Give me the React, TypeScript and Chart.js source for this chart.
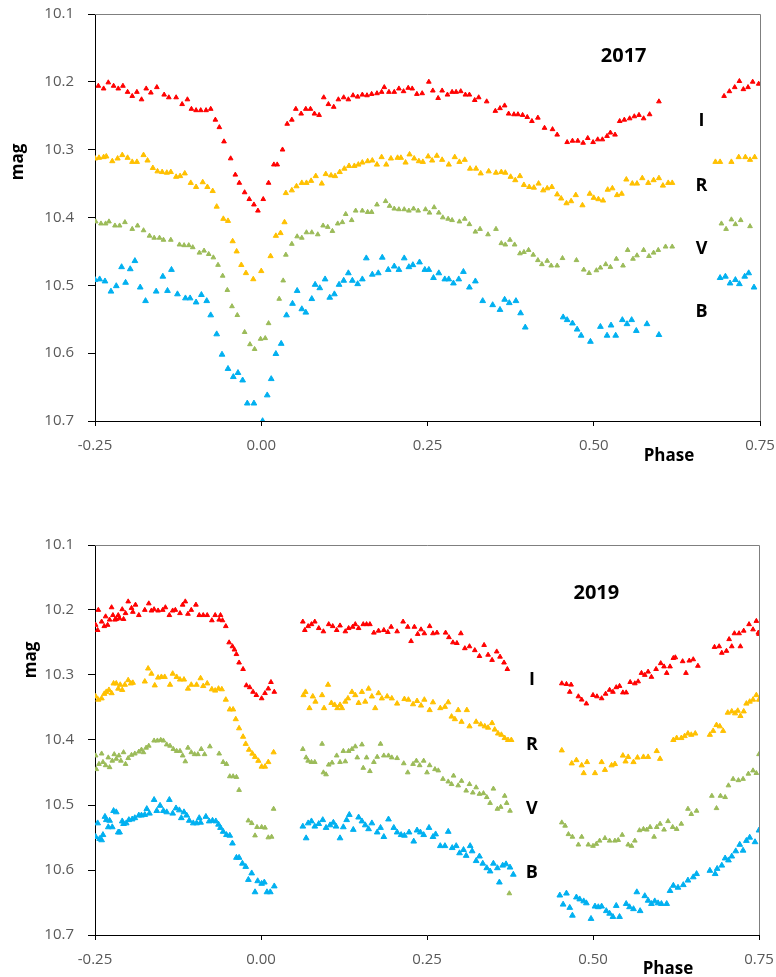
import React, { useEffect, useRef } from "react";
import { Chart, registerables } from "chart.js";

Chart.register(...registerables);

// ---------- 2017 data: [phase, mag] ----------
const I2017: number[][] = [
  [-0.245, 10.206], [-0.237, 10.21], [-0.23, 10.201], [-0.222, 10.206], [-0.215, 10.21], [-0.208, 10.206],
  [-0.201, 10.215], [-0.194, 10.221], [-0.187, 10.215], [-0.18, 10.226], [-0.173, 10.21], [-0.166, 10.216],
  [-0.157, 10.208], [-0.146, 10.219], [-0.139, 10.223], [-0.128, 10.223], [-0.119, 10.233], [-0.111, 10.226],
  [-0.105, 10.24], [-0.098, 10.242], [-0.091, 10.242], [-0.083, 10.242], [-0.076, 10.24], [-0.069, 10.256],
  [-0.063, 10.267], [-0.056, 10.288], [-0.046, 10.313], [-0.039, 10.337], [-0.033, 10.349], [-0.025, 10.363],
  [-0.018, 10.373], [-0.011, 10.381], [-0.005, 10.39], [0.003, 10.373], [0.011, 10.349], [0.019, 10.322],
  [0.024, 10.322], [0.032, 10.3], [0.039, 10.262], [0.046, 10.256], [0.052, 10.24], [0.06, 10.247],
  [0.067, 10.24], [0.074, 10.24], [0.08, 10.247], [0.087, 10.249], [0.094, 10.223], [0.101, 10.233],
  [0.109, 10.237], [0.116, 10.226], [0.124, 10.223], [0.131, 10.226], [0.138, 10.22], [0.145, 10.222],
  [0.152, 10.219], [0.159, 10.22], [0.166, 10.218], [0.174, 10.217], [0.181, 10.215], [0.185, 10.208],
  [0.192, 10.215], [0.2, 10.215], [0.207, 10.21], [0.214, 10.214], [0.221, 10.209], [0.227, 10.21],
  [0.234, 10.218], [0.242, 10.217], [0.252, 10.2], [0.258, 10.213], [0.266, 10.224], [0.272, 10.213],
  [0.28, 10.219], [0.287, 10.215], [0.293, 10.215], [0.3, 10.214], [0.307, 10.219], [0.313, 10.219],
  [0.321, 10.227], [0.327, 10.223], [0.339, 10.229], [0.352, 10.243], [0.359, 10.239], [0.366, 10.235],
  [0.372, 10.247], [0.38, 10.248], [0.386, 10.248], [0.393, 10.249], [0.4, 10.252], [0.407, 10.258],
  [0.416, 10.253], [0.426, 10.268], [0.438, 10.27], [0.445, 10.278], [0.46, 10.289], [0.468, 10.287],
  [0.476, 10.287], [0.484, 10.29], [0.491, 10.283], [0.499, 10.289], [0.506, 10.285], [0.513, 10.285],
  [0.52, 10.28], [0.525, 10.275], [0.532, 10.278], [0.539, 10.258], [0.546, 10.256], [0.554, 10.254],
  [0.561, 10.251], [0.568, 10.249], [0.575, 10.254], [0.584, 10.248], [0.598, 10.229], [0.696, 10.221],
  [0.704, 10.214], [0.712, 10.208], [0.719, 10.199], [0.725, 10.211], [0.732, 10.208], [0.739, 10.2],
  [0.748, 10.203],
];

const R2017: number[][] = [
  [-0.25, 10.313], [-0.244, 10.312], [-0.237, 10.311], [-0.233, 10.31], [-0.224, 10.317], [-0.216, 10.313],
  [-0.209, 10.308], [-0.201, 10.312], [-0.194, 10.318], [-0.187, 10.318], [-0.177, 10.308], [-0.171, 10.316],
  [-0.163, 10.327], [-0.156, 10.332], [-0.149, 10.333], [-0.142, 10.334], [-0.136, 10.333], [-0.128, 10.34],
  [-0.122, 10.339], [-0.115, 10.335], [-0.106, 10.349], [-0.098, 10.355], [-0.088, 10.348], [-0.081, 10.355],
  [-0.073, 10.361], [-0.067, 10.384], [-0.057, 10.402], [-0.05, 10.405], [-0.043, 10.435], [-0.037, 10.45],
  [-0.03, 10.47], [-0.023, 10.482], [-0.012, 10.491], [0.0, 10.479], [0.014, 10.457], [0.022, 10.427],
  [0.029, 10.423], [0.035, 10.407], [0.037, 10.364], [0.046, 10.36], [0.053, 10.354], [0.061, 10.349],
  [0.068, 10.349], [0.075, 10.346], [0.082, 10.339], [0.091, 10.35], [0.097, 10.336], [0.105, 10.338],
  [0.111, 10.339], [0.118, 10.333], [0.125, 10.328], [0.132, 10.324], [0.14, 10.324], [0.146, 10.322],
  [0.152, 10.319], [0.16, 10.317], [0.167, 10.316], [0.174, 10.322], [0.181, 10.311], [0.188, 10.322],
  [0.195, 10.313], [0.205, 10.312], [0.21, 10.312], [0.217, 10.319], [0.223, 10.307], [0.23, 10.313],
  [0.237, 10.317], [0.243, 10.318], [0.251, 10.31], [0.257, 10.316], [0.264, 10.309], [0.272, 10.315],
  [0.282, 10.322], [0.291, 10.311], [0.298, 10.318], [0.306, 10.315], [0.314, 10.328], [0.323, 10.328],
  [0.33, 10.335], [0.342, 10.332], [0.353, 10.334], [0.361, 10.333], [0.367, 10.334], [0.375, 10.34],
  [0.382, 10.345], [0.389, 10.339], [0.395, 10.352], [0.403, 10.355], [0.41, 10.356], [0.417, 10.35],
  [0.424, 10.36], [0.43, 10.357], [0.437, 10.355], [0.445, 10.366], [0.451, 10.372], [0.459, 10.379],
  [0.466, 10.376], [0.473, 10.367], [0.483, 10.382], [0.494, 10.365], [0.5, 10.371], [0.507, 10.373],
  [0.514, 10.375], [0.521, 10.359], [0.528, 10.357], [0.535, 10.367], [0.542, 10.365], [0.549, 10.344],
  [0.558, 10.35], [0.565, 10.35], [0.573, 10.342], [0.582, 10.349], [0.59, 10.345], [0.598, 10.342],
  [0.604, 10.353], [0.612, 10.349], [0.618, 10.349], [0.683, 10.318], [0.69, 10.318], [0.707, 10.318],
  [0.718, 10.311], [0.728, 10.311], [0.735, 10.315], [0.742, 10.311],
];

const V2017: number[][] = [
  [-0.249, 10.406], [-0.241, 10.409], [-0.234, 10.409], [-0.229, 10.406], [-0.22, 10.412], [-0.213, 10.412],
  [-0.205, 10.407], [-0.194, 10.417], [-0.186, 10.412], [-0.177, 10.419], [-0.168, 10.427], [-0.161, 10.43],
  [-0.153, 10.43], [-0.147, 10.433], [-0.136, 10.433], [-0.123, 10.44], [-0.116, 10.441], [-0.109, 10.441],
  [-0.103, 10.444], [-0.093, 10.452], [-0.086, 10.449], [-0.079, 10.454], [-0.072, 10.459], [-0.065, 10.47],
  [-0.058, 10.486], [-0.051, 10.507], [-0.044, 10.531], [-0.036, 10.544], [-0.025, 10.569], [-0.017, 10.587],
  [-0.01, 10.594], [-0.001, 10.579], [0.006, 10.578], [0.011, 10.556], [0.027, 10.52], [0.033, 10.493],
  [0.037, 10.455], [0.046, 10.439], [0.054, 10.428], [0.061, 10.43], [0.068, 10.422], [0.076, 10.422],
  [0.085, 10.425], [0.093, 10.412], [0.1, 10.414], [0.107, 10.42], [0.115, 10.409], [0.122, 10.407],
  [0.127, 10.395], [0.136, 10.404], [0.142, 10.39], [0.152, 10.39], [0.16, 10.392], [0.166, 10.392],
  [0.174, 10.381], [0.187, 10.376], [0.193, 10.383], [0.2, 10.387], [0.207, 10.388], [0.215, 10.388],
  [0.222, 10.39], [0.229, 10.387], [0.236, 10.39], [0.247, 10.388], [0.253, 10.393], [0.26, 10.385],
  [0.267, 10.393], [0.273, 10.4], [0.281, 10.402], [0.287, 10.404], [0.298, 10.406], [0.306, 10.402],
  [0.313, 10.41], [0.322, 10.421], [0.329, 10.417], [0.341, 10.425], [0.353, 10.417], [0.361, 10.438],
  [0.367, 10.44], [0.374, 10.433], [0.381, 10.44], [0.389, 10.453], [0.395, 10.451], [0.402, 10.448],
  [0.409, 10.455], [0.416, 10.463], [0.422, 10.469], [0.43, 10.464], [0.436, 10.471], [0.445, 10.471],
  [0.453, 10.46], [0.474, 10.463], [0.485, 10.477], [0.493, 10.482], [0.504, 10.478], [0.51, 10.474],
  [0.518, 10.469], [0.525, 10.473], [0.534, 10.461], [0.544, 10.471], [0.551, 10.448], [0.559, 10.461],
  [0.565, 10.456], [0.575, 10.448], [0.583, 10.457], [0.59, 10.452], [0.597, 10.448], [0.608, 10.443],
  [0.618, 10.443], [0.692, 10.409], [0.699, 10.417], [0.707, 10.403], [0.713, 10.41], [0.721, 10.404],
  [0.735, 10.413],
];

const B2017: number[][] = [
  [-0.25, 10.492], [-0.243, 10.491], [-0.235, 10.494], [-0.226, 10.509], [-0.218, 10.501], [-0.21, 10.473],
  [-0.204, 10.496], [-0.197, 10.476], [-0.19, 10.464], [-0.182, 10.503], [-0.174, 10.523], [-0.158, 10.509],
  [-0.148, 10.487], [-0.141, 10.508], [-0.135, 10.477], [-0.126, 10.513], [-0.114, 10.519], [-0.107, 10.519],
  [-0.098, 10.525], [-0.09, 10.514], [-0.082, 10.523], [-0.076, 10.544], [-0.067, 10.572], [-0.059, 10.602],
  [-0.05, 10.623], [-0.042, 10.635], [-0.035, 10.629], [-0.028, 10.64], [-0.021, 10.674], [-0.011, 10.674],
  [0.002, 10.7], [0.009, 10.662], [0.015, 10.638], [0.022, 10.601], [0.03, 10.586], [0.038, 10.544],
  [0.047, 10.527], [0.054, 10.508], [0.061, 10.535], [0.067, 10.54], [0.076, 10.52], [0.081, 10.499],
  [0.088, 10.504], [0.096, 10.491], [0.103, 10.518], [0.11, 10.513], [0.117, 10.499], [0.124, 10.493],
  [0.131, 10.482], [0.137, 10.493], [0.145, 10.498], [0.152, 10.491], [0.158, 10.46], [0.167, 10.484],
  [0.176, 10.482], [0.182, 10.459], [0.191, 10.477], [0.2, 10.472], [0.207, 10.477], [0.215, 10.46],
  [0.222, 10.473], [0.228, 10.47], [0.238, 10.466], [0.246, 10.477], [0.252, 10.477], [0.259, 10.489],
  [0.267, 10.482], [0.276, 10.491], [0.282, 10.491], [0.289, 10.497], [0.297, 10.491], [0.304, 10.48],
  [0.313, 10.503], [0.322, 10.494], [0.333, 10.523], [0.348, 10.529], [0.359, 10.536], [0.366, 10.521],
  [0.373, 10.526], [0.383, 10.523], [0.39, 10.541], [0.397, 10.562], [0.454, 10.547], [0.46, 10.551],
  [0.468, 10.556], [0.475, 10.565], [0.481, 10.574], [0.495, 10.583], [0.51, 10.561], [0.52, 10.574],
  [0.526, 10.559], [0.533, 10.574], [0.543, 10.551], [0.55, 10.557], [0.557, 10.551], [0.564, 10.567],
  [0.58, 10.557], [0.598, 10.573], [0.69, 10.489], [0.698, 10.487], [0.705, 10.497], [0.713, 10.492],
  [0.719, 10.498], [0.727, 10.487], [0.733, 10.482], [0.741, 10.503],
];

// ---------- 2019 data: [phase, mag] ----------
const I2019: number[][] = [
  [-0.249, 10.223], [-0.246, 10.231], [-0.245, 10.2], [-0.24, 10.218], [-0.236, 10.225], [-0.234, 10.21],
  [-0.231, 10.223], [-0.228, 10.215], [-0.225, 10.196], [-0.223, 10.208], [-0.22, 10.215], [-0.218, 10.214],
  [-0.215, 10.208], [-0.213, 10.213], [-0.209, 10.199], [-0.207, 10.214], [-0.204, 10.205], [-0.2, 10.187],
  [-0.195, 10.197], [-0.193, 10.203], [-0.189, 10.192], [-0.184, 10.208], [-0.175, 10.2], [-0.169, 10.19],
  [-0.165, 10.201], [-0.161, 10.199], [-0.155, 10.201], [-0.148, 10.2], [-0.144, 10.196], [-0.138, 10.208],
  [-0.133, 10.201], [-0.129, 10.2], [-0.122, 10.205], [-0.118, 10.192], [-0.114, 10.187], [-0.11, 10.206],
  [-0.105, 10.2], [-0.098, 10.192], [-0.093, 10.208], [-0.087, 10.208], [-0.081, 10.208], [-0.074, 10.216],
  [-0.069, 10.208], [-0.063, 10.215], [-0.061, 10.208], [-0.058, 10.216], [-0.053, 10.225], [-0.048, 10.25],
  [-0.043, 10.256], [-0.04, 10.261], [-0.037, 10.268], [-0.033, 10.281], [-0.027, 10.291], [-0.022, 10.316],
  [-0.017, 10.319], [-0.012, 10.326], [-0.007, 10.331], [0.001, 10.336], [0.006, 10.328], [0.011, 10.321],
  [0.015, 10.311], [0.02, 10.326], [0.063, 10.218], [0.066, 10.231], [0.071, 10.225], [0.076, 10.222],
  [0.081, 10.218], [0.087, 10.228], [0.094, 10.233], [0.102, 10.222], [0.108, 10.225], [0.114, 10.231],
  [0.119, 10.224], [0.127, 10.233], [0.132, 10.228], [0.138, 10.226], [0.142, 10.222], [0.147, 10.228],
  [0.154, 10.222], [0.159, 10.222], [0.164, 10.222], [0.17, 10.235], [0.177, 10.232], [0.185, 10.231],
  [0.191, 10.234], [0.196, 10.226], [0.205, 10.233], [0.214, 10.218], [0.221, 10.226], [0.226, 10.248],
  [0.231, 10.226], [0.236, 10.237], [0.241, 10.23], [0.246, 10.236], [0.254, 10.225], [0.259, 10.236],
  [0.265, 10.235], [0.278, 10.235], [0.283, 10.242], [0.289, 10.25], [0.295, 10.251], [0.301, 10.236],
  [0.307, 10.259], [0.314, 10.256], [0.322, 10.262], [0.329, 10.271], [0.336, 10.254], [0.342, 10.269],
  [0.348, 10.277], [0.355, 10.264], [0.36, 10.272], [0.366, 10.281], [0.371, 10.291], [0.453, 10.313],
  [0.46, 10.314], [0.465, 10.326], [0.467, 10.315], [0.478, 10.333], [0.483, 10.338], [0.49, 10.344],
  [0.5, 10.331], [0.506, 10.333], [0.513, 10.336], [0.519, 10.329], [0.525, 10.323], [0.53, 10.326],
  [0.535, 10.319], [0.54, 10.317], [0.545, 10.327], [0.55, 10.327], [0.556, 10.311], [0.563, 10.313],
  [0.568, 10.31], [0.573, 10.297], [0.578, 10.3], [0.583, 10.295], [0.588, 10.303], [0.595, 10.291],
  [0.602, 10.282], [0.607, 10.287], [0.611, 10.297], [0.616, 10.287], [0.621, 10.274], [0.624, 10.273],
  [0.635, 10.279], [0.64, 10.297], [0.645, 10.278], [0.651, 10.276], [0.658, 10.286], [0.683, 10.257],
  [0.69, 10.256], [0.694, 10.266], [0.701, 10.263], [0.705, 10.245], [0.709, 10.256], [0.713, 10.236],
  [0.72, 10.236], [0.722, 10.256], [0.727, 10.232], [0.735, 10.222], [0.741, 10.23], [0.746, 10.217],
  [0.749, 10.235], [0.75, 10.237],
];

const R2019: number[][] = [
  [-0.249, 10.333], [-0.245, 10.338], [-0.24, 10.336], [-0.236, 10.329], [-0.233, 10.326], [-0.229, 10.323],
  [-0.225, 10.328], [-0.222, 10.313], [-0.218, 10.313], [-0.215, 10.321], [-0.212, 10.315], [-0.209, 10.323],
  [-0.205, 10.315], [-0.2, 10.308], [-0.196, 10.313], [-0.193, 10.312], [-0.175, 10.31], [-0.17, 10.29],
  [-0.165, 10.298], [-0.16, 10.316], [-0.155, 10.304], [-0.15, 10.303], [-0.145, 10.303], [-0.137, 10.315],
  [-0.133, 10.298], [-0.127, 10.303], [-0.122, 10.307], [-0.116, 10.307], [-0.11, 10.321], [-0.105, 10.315],
  [-0.097, 10.315], [-0.091, 10.305], [-0.087, 10.317], [-0.081, 10.313], [-0.074, 10.322], [-0.069, 10.324],
  [-0.064, 10.321], [-0.059, 10.322], [-0.053, 10.338], [-0.047, 10.353], [-0.042, 10.353], [-0.038, 10.368],
  [-0.033, 10.382], [-0.027, 10.395], [-0.023, 10.406], [-0.018, 10.415], [-0.013, 10.421], [-0.009, 10.426],
  [-0.004, 10.432], [0.001, 10.441], [0.006, 10.441], [0.011, 10.434], [0.019, 10.419], [0.064, 10.331],
  [0.067, 10.326], [0.073, 10.351], [0.078, 10.333], [0.082, 10.341], [0.092, 10.331], [0.095, 10.351],
  [0.101, 10.315], [0.106, 10.343], [0.111, 10.346], [0.115, 10.351], [0.119, 10.346], [0.122, 10.351],
  [0.127, 10.341], [0.131, 10.336], [0.137, 10.326], [0.142, 10.331], [0.147, 10.343], [0.152, 10.326],
  [0.157, 10.341], [0.162, 10.321], [0.167, 10.333], [0.172, 10.351], [0.177, 10.328], [0.182, 10.336],
  [0.19, 10.333], [0.197, 10.336], [0.205, 10.344], [0.216, 10.337], [0.222, 10.338], [0.229, 10.345],
  [0.235, 10.34], [0.241, 10.347], [0.246, 10.338], [0.254, 10.354], [0.259, 10.342], [0.27, 10.351],
  [0.277, 10.349], [0.282, 10.342], [0.287, 10.364], [0.292, 10.368], [0.297, 10.354], [0.302, 10.372],
  [0.31, 10.354], [0.314, 10.379], [0.324, 10.372], [0.331, 10.376], [0.337, 10.379], [0.342, 10.381],
  [0.348, 10.374], [0.352, 10.384], [0.357, 10.39], [0.362, 10.392], [0.367, 10.397], [0.372, 10.4],
  [0.377, 10.4], [0.453, 10.416], [0.468, 10.436], [0.475, 10.431], [0.483, 10.439], [0.486, 10.451],
  [0.491, 10.434], [0.503, 10.451], [0.513, 10.434], [0.518, 10.446], [0.528, 10.439], [0.533, 10.437],
  [0.545, 10.424], [0.549, 10.433], [0.553, 10.426], [0.561, 10.434], [0.567, 10.427], [0.576, 10.426],
  [0.583, 10.426], [0.596, 10.417], [0.601, 10.429], [0.621, 10.4], [0.626, 10.397], [0.633, 10.397],
  [0.638, 10.394], [0.643, 10.39], [0.648, 10.392], [0.654, 10.39], [0.676, 10.392], [0.681, 10.386],
  [0.686, 10.377], [0.691, 10.379], [0.696, 10.386], [0.703, 10.358], [0.709, 10.356], [0.714, 10.359],
  [0.718, 10.355], [0.722, 10.363], [0.727, 10.356], [0.731, 10.344], [0.736, 10.341], [0.741, 10.338],
  [0.746, 10.331], [0.75, 10.338],
];

const V2019: number[][] = [
  [-0.249, 10.424], [-0.248, 10.445], [-0.244, 10.437], [-0.24, 10.421], [-0.238, 10.434], [-0.234, 10.439],
  [-0.23, 10.427], [-0.228, 10.442], [-0.224, 10.432], [-0.221, 10.422], [-0.218, 10.429], [-0.214, 10.424],
  [-0.211, 10.432], [-0.207, 10.419], [-0.204, 10.437], [-0.2, 10.428], [-0.195, 10.423], [-0.19, 10.421],
  [-0.184, 10.418], [-0.18, 10.415], [-0.177, 10.419], [-0.173, 10.412], [-0.169, 10.409], [-0.161, 10.401],
  [-0.156, 10.401], [-0.151, 10.4], [-0.147, 10.401], [-0.142, 10.407], [-0.137, 10.409], [-0.132, 10.414],
  [-0.127, 10.417], [-0.122, 10.417], [-0.118, 10.424], [-0.114, 10.433], [-0.11, 10.412], [-0.105, 10.419],
  [-0.1, 10.422], [-0.095, 10.422], [-0.09, 10.414], [-0.085, 10.422], [-0.077, 10.41], [-0.063, 10.421],
  [-0.057, 10.434], [-0.052, 10.437], [-0.047, 10.456], [-0.042, 10.456], [-0.037, 10.457], [-0.033, 10.477],
  [-0.019, 10.524], [-0.014, 10.528], [-0.009, 10.547], [-0.006, 10.534], [0.001, 10.534], [0.006, 10.535],
  [0.011, 10.55], [0.016, 10.549], [0.019, 10.506], [0.063, 10.414], [0.068, 10.427], [0.071, 10.432],
  [0.076, 10.434], [0.081, 10.434], [0.092, 10.406], [0.094, 10.45], [0.098, 10.453], [0.102, 10.438],
  [0.107, 10.435], [0.114, 10.424], [0.119, 10.434], [0.124, 10.417], [0.127, 10.433], [0.132, 10.417],
  [0.137, 10.414], [0.142, 10.41], [0.145, 10.427], [0.152, 10.407], [0.154, 10.443], [0.159, 10.427],
  [0.164, 10.448], [0.17, 10.434], [0.175, 10.426], [0.18, 10.406], [0.185, 10.424], [0.192, 10.424],
  [0.197, 10.427], [0.205, 10.428], [0.215, 10.436], [0.221, 10.45], [0.229, 10.437], [0.234, 10.432],
  [0.239, 10.439], [0.245, 10.432], [0.25, 10.45], [0.254, 10.439], [0.262, 10.445], [0.267, 10.447],
  [0.274, 10.46], [0.282, 10.464], [0.287, 10.468], [0.29, 10.455], [0.297, 10.47], [0.302, 10.463],
  [0.309, 10.478], [0.314, 10.468], [0.319, 10.481], [0.324, 10.473], [0.329, 10.483], [0.335, 10.482],
  [0.34, 10.488], [0.345, 10.497], [0.35, 10.475], [0.356, 10.506], [0.361, 10.503], [0.367, 10.486],
  [0.37, 10.497], [0.375, 10.509], [0.374, 10.636], [0.453, 10.527], [0.458, 10.532], [0.463, 10.545],
  [0.469, 10.549], [0.478, 10.561], [0.483, 10.549], [0.493, 10.561], [0.5, 10.563], [0.505, 10.56],
  [0.51, 10.555], [0.518, 10.551], [0.525, 10.555], [0.533, 10.555], [0.538, 10.554], [0.544, 10.546],
  [0.553, 10.561], [0.558, 10.563], [0.563, 10.555], [0.57, 10.539], [0.576, 10.537], [0.581, 10.538],
  [0.586, 10.534], [0.592, 10.549], [0.596, 10.534], [0.601, 10.529], [0.607, 10.538], [0.613, 10.525],
  [0.62, 10.534], [0.626, 10.537], [0.633, 10.529], [0.643, 10.506], [0.648, 10.514], [0.656, 10.509],
  [0.679, 10.486], [0.686, 10.505], [0.692, 10.486], [0.699, 10.488], [0.704, 10.47], [0.711, 10.46],
  [0.719, 10.462], [0.726, 10.46], [0.734, 10.452], [0.741, 10.447], [0.746, 10.451], [0.75, 10.422],
];

const B2019: number[][] = [
  [-0.249, 10.549], [-0.246, 10.528], [-0.243, 10.552], [-0.24, 10.554], [-0.238, 10.546], [-0.235, 10.518],
  [-0.233, 10.523], [-0.23, 10.534], [-0.228, 10.524], [-0.224, 10.534], [-0.222, 10.509], [-0.218, 10.511],
  [-0.215, 10.542], [-0.213, 10.542], [-0.209, 10.525], [-0.207, 10.529], [-0.203, 10.528], [-0.199, 10.523],
  [-0.194, 10.522], [-0.19, 10.52], [-0.184, 10.516], [-0.18, 10.516], [-0.175, 10.515], [-0.172, 10.506],
  [-0.168, 10.513], [-0.161, 10.492], [-0.157, 10.509], [-0.152, 10.501], [-0.147, 10.509], [-0.142, 10.511],
  [-0.138, 10.492], [-0.133, 10.513], [-0.128, 10.505], [-0.123, 10.508], [-0.12, 10.52], [-0.116, 10.511],
  [-0.112, 10.516], [-0.108, 10.524], [-0.102, 10.528], [-0.097, 10.528], [-0.093, 10.52], [-0.091, 10.527],
  [-0.083, 10.518], [-0.078, 10.525], [-0.073, 10.524], [-0.068, 10.525], [-0.064, 10.53], [-0.061, 10.535],
  [-0.057, 10.541], [-0.052, 10.546], [-0.047, 10.547], [-0.043, 10.559], [-0.037, 10.581], [-0.033, 10.581],
  [-0.028, 10.59], [-0.023, 10.595], [-0.019, 10.615], [-0.014, 10.605], [-0.009, 10.634], [-0.005, 10.617],
  [0.001, 10.621], [0.005, 10.619], [0.009, 10.634], [0.014, 10.634], [0.02, 10.625], [0.063, 10.533],
  [0.068, 10.551], [0.071, 10.528], [0.076, 10.525], [0.081, 10.533], [0.087, 10.529], [0.093, 10.523],
  [0.098, 10.535], [0.104, 10.531], [0.109, 10.527], [0.113, 10.533], [0.119, 10.551], [0.124, 10.534],
  [0.129, 10.523], [0.133, 10.515], [0.139, 10.538], [0.147, 10.519], [0.152, 10.525], [0.157, 10.531],
  [0.162, 10.537], [0.167, 10.528], [0.175, 10.542], [0.18, 10.535], [0.185, 10.549], [0.192, 10.522],
  [0.2, 10.535], [0.205, 10.542], [0.211, 10.546], [0.216, 10.547], [0.223, 10.542], [0.23, 10.556],
  [0.235, 10.539], [0.24, 10.542], [0.245, 10.546], [0.253, 10.535], [0.259, 10.549], [0.263, 10.545],
  [0.27, 10.563], [0.277, 10.563], [0.282, 10.541], [0.288, 10.566], [0.294, 10.563], [0.299, 10.574],
  [0.305, 10.569], [0.309, 10.578], [0.315, 10.563], [0.318, 10.571], [0.324, 10.586], [0.329, 10.579],
  [0.334, 10.59], [0.34, 10.597], [0.345, 10.602], [0.35, 10.59], [0.356, 10.597], [0.359, 10.619],
  [0.364, 10.593], [0.369, 10.591], [0.375, 10.596], [0.38, 10.607], [0.45, 10.639], [0.455, 10.653],
  [0.46, 10.636], [0.465, 10.658], [0.469, 10.67], [0.475, 10.642], [0.48, 10.645], [0.486, 10.648],
  [0.49, 10.651], [0.497, 10.675], [0.503, 10.656], [0.508, 10.657], [0.513, 10.656], [0.52, 10.663],
  [0.525, 10.667], [0.53, 10.672], [0.535, 10.655], [0.54, 10.672], [0.55, 10.652], [0.555, 10.657],
  [0.561, 10.66], [0.566, 10.634], [0.571, 10.663], [0.578, 10.64], [0.583, 10.647], [0.588, 10.652],
  [0.593, 10.648], [0.598, 10.651], [0.603, 10.652], [0.611, 10.652], [0.616, 10.632], [0.621, 10.624],
  [0.628, 10.627], [0.636, 10.623], [0.643, 10.616], [0.651, 10.611], [0.656, 10.606], [0.676, 10.601],
  [0.684, 10.606], [0.687, 10.598], [0.694, 10.593], [0.699, 10.582], [0.704, 10.585], [0.709, 10.579],
  [0.715, 10.571], [0.721, 10.561], [0.726, 10.57], [0.731, 10.555], [0.736, 10.55], [0.744, 10.557],
  [0.75, 10.539],
];

// axis ranges / ticks
const X_MIN = -0.25;
const X_MAX = 0.75;
const X_STEP = 0.25;
const Y_MIN = 10.1;
const Y_MAX = 10.7;
const Y_STEP = 0.1;

// band labels (text, phase, mag)
const LABELS_2017: [string, number, number][] = [
  ["2017", 0.545, 10.163], ["I", 0.662, 10.257], ["R", 0.662, 10.354], ["V", 0.662, 10.446], ["B", 0.662, 10.539],
];
const LABELS_2019: [string, number, number][] = [
  ["2019", 0.505, 10.174], ["I", 0.408, 10.308], ["R", 0.408, 10.408], ["V", 0.408, 10.506], ["B", 0.408, 10.604],
];

const COLORS = { I: "#FF0000", R: "#FFC000", V: "#9BBB59", B: "#00B0F0" };
const FONT = "'Open Sans', 'Noto Sans', sans-serif";

function toPts(arr: number[][]) {
  return arr.map(([x, y]) => ({ x, y }));
}

function makeConfig(
  series: { I: number[][]; R: number[][]; V: number[][]; B: number[][] },
  labels: [string, number, number][],
  geom: { padTop: number; padRight: number; xAxisH: number; magX: number; magY: number; phaseX: number; phaseY: number }
): any {
  const ds = (key: "I" | "R" | "V" | "B", data: number[][], r: number) => ({
    label: key,
    data: toPts(data),
    showLine: false,
    pointStyle: "triangle",
    pointRadius: r,
    pointHoverRadius: r,
    backgroundColor: COLORS[key],
    borderColor: COLORS[key],
    borderWidth: 1,
  });
  const decor = {
    id: "decor",
    afterDraw(chart: any) {
      const { ctx, chartArea, scales } = chart;
      ctx.save();
      // grey top/right frame
      ctx.strokeStyle = "#7f7f7f";
      ctx.lineWidth = 1;
      ctx.beginPath();
      ctx.moveTo(chartArea.left, chartArea.top + 0.5);
      ctx.lineTo(chartArea.right + 0.5, chartArea.top + 0.5);
      ctx.lineTo(chartArea.right + 0.5, chartArea.bottom);
      ctx.stroke();
      ctx.fillStyle = "#000";
      ctx.textAlign = "center";
      ctx.textBaseline = "middle";
      for (const [t, px, py] of labels) {
        ctx.font = `bold ${t.length > 1 ? 20 : 18}px ${FONT}`;
        ctx.fillText(t, scales.x.getPixelForValue(px), scales.y.getPixelForValue(py));
      }
      ctx.font = `bold 17px ${FONT}`;
      ctx.fillText("Phase", geom.phaseX, geom.phaseY);
      ctx.translate(geom.magX, geom.magY);
      ctx.rotate(-Math.PI / 2);
      ctx.fillText("mag", 0, 0);
      ctx.restore();
    },
  };
  return {
    type: "scatter",
    data: {
      datasets: [ds("I", series.I, 2.7), ds("R", series.R, 3.0), ds("V", series.V, 2.7), ds("B", series.B, 3.3)],
    },
    options: {
      responsive: false,
      animation: false,
      devicePixelRatio: 1,
      layout: { padding: { top: geom.padTop, right: geom.padRight, left: 0, bottom: 0 } },
      plugins: { legend: { display: false }, tooltip: { enabled: false }, title: { display: false } },
      scales: {
        x: {
          type: "linear",
          min: X_MIN,
          max: X_MAX,
          ticks: {
            stepSize: X_STEP,
            callback: (v: number) => Number(v).toFixed(2),
            font: { family: FONT, size: 15 },
            color: "#595959",
            padding: 11,
            maxRotation: 0,
          },
          grid: { drawOnChartArea: false, drawTicks: true, tickLength: 5, color: "#000" },
          border: { color: "#000", width: 1 },
          afterFit: (s: any) => {
            s.height = geom.xAxisH;
            s.paddingLeft = 0;
            s.paddingRight = 0;
          },
        },
        y: {
          type: "linear",
          reverse: true,
          min: Y_MIN,
          max: Y_MAX,
          ticks: {
            stepSize: Y_STEP,
            callback: (v: number) => Number(v).toFixed(1),
            font: { family: FONT, size: 15 },
            color: "#595959",
            padding: 14,
          },
          grid: { drawOnChartArea: false, drawTicks: true, tickLength: 7, color: "#000" },
          border: { color: "#000", width: 1 },
          afterFit: (s: any) => {
            s.width = 95;
            s.paddingTop = 0;
            s.paddingBottom = 0;
          },
        },
      },
    },
    plugins: [decor],
  };
}

export default function App() {
  const c1 = useRef<HTMLCanvasElement | null>(null);
  const c2 = useRef<HTMLCanvasElement | null>(null);
  useEffect(() => {
    const ch1 = new Chart(
      c1.current as HTMLCanvasElement,
      makeConfig({ I: I2017, R: R2017, V: V2017, B: B2017 }, LABELS_2017, {
        padTop: 14, padRight: 16, xAxisH: 51, magX: 18, magY: 162, phaseX: 669, phaseY: 456,
      })
    );
    const ch2 = new Chart(
      c2.current as HTMLCanvasElement,
      makeConfig({ I: I2019, R: R2019, V: V2019, B: B2019 }, LABELS_2019, {
        padTop: 45, padRight: 17, xAxisH: 42, magX: 31, magY: 160, phaseX: 668, phaseY: 469,
      })
    );
    return () => {
      ch1.destroy();
      ch2.destroy();
    };
  }, []);
  return (
    <div style={{ position: "absolute", left: 0, top: 0, width: 776, height: 977, background: "#fff" }}>
      <canvas ref={c1} width={776} height={472} style={{ position: "absolute", left: 0, top: 0 }} />
      <canvas ref={c2} width={776} height={477} style={{ position: "absolute", left: 0, top: 500 }} />
    </div>
  );
}
